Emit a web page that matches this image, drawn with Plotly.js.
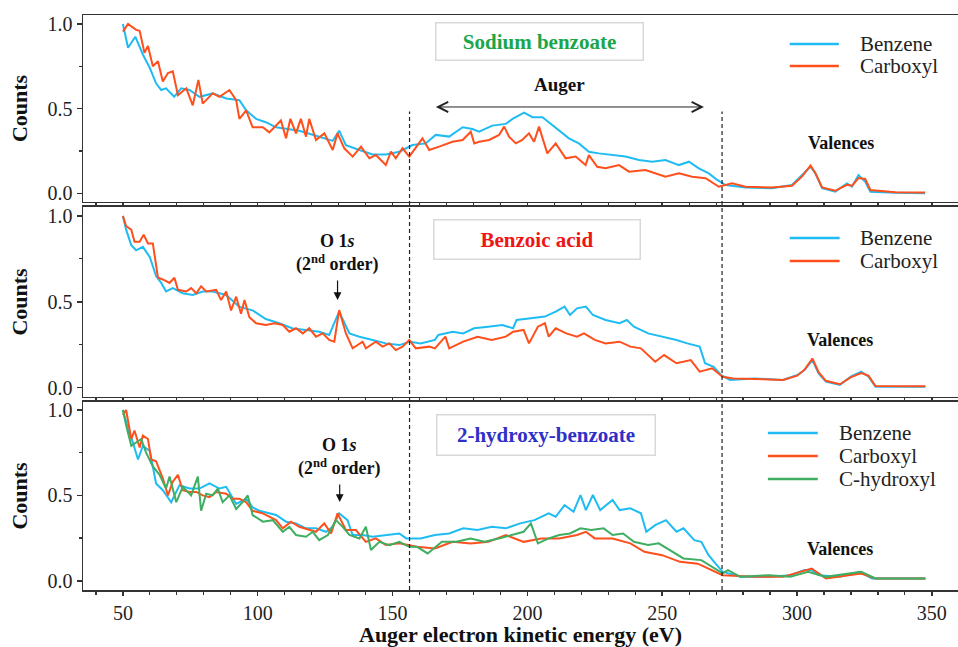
<!DOCTYPE html>
<html>
<head>
<meta charset="utf-8">
<script src="https://cdn.plot.ly/plotly-3.0.1.min.js"></script>
<style>html,body{margin:0;padding:0;background:#fff;}#chart{width:958px;height:647px;}</style>
</head>
<body>
<div id="chart"></div>
<script>
// ---------------- data ----------------
const seriesNames = ['Benzene', 'Carboxyl', 'C-hydroxyl'];
const panelTitles = ['Sodium benzoate', 'Benzoic acid', '2-hydroxy-benzoate'];
const xTickVals = [50, 100, 150, 200, 250, 300, 350];
const yTickVals = [0, 0.5, 1.0];
const yTickText = ['0.0', '0.5', '1.0'];
const regionBounds = [156.3, 272.2];

// Panel 1: Sodium benzoate
const p1BenzeneX = [50,51.9,54.6,57.4,60,62.3,64.2,66,69,71.6,74.7,78.4,83.3,88.3,93.2,95.7,99.4,103,106.8,111.7,115.4,121.6,127.8,130.2,132.7,137.7,142.6,147.5,152.5,157.4,162.3,166,171,176,179.6,182.1,187,192,194.5,198.8,201.9,205.6,208.6,211.7,215.4,219.1,222.8,226.5,231.5,236.4,241.4,246.3,251.2,256.2,259.9,263.6,267.3,270.4,273.5,280.9,290.7,298.1,301.9,305,306.8,309.3,314.2,318.5,320.4,322.8,325.3,327.2,336.4,347.5];
const p1BenzeneY = [1.0,0.86,0.925,0.82,0.74,0.65,0.61,0.62,0.57,0.62,0.61,0.57,0.59,0.56,0.55,0.49,0.44,0.42,0.39,0.38,0.37,0.34,0.31,0.37,0.285,0.256,0.23,0.23,0.246,0.285,0.295,0.345,0.335,0.39,0.38,0.364,0.40,0.41,0.44,0.476,0.45,0.45,0.41,0.374,0.325,0.295,0.246,0.236,0.226,0.217,0.197,0.187,0.197,0.167,0.187,0.148,0.118,0.079,0.049,0.035,0.03,0.049,0.108,0.157,0.118,0.03,0.01,0.059,0.04,0.108,0.069,0.01,0.004,0.0];
const p1CarboxylX = [50,51.9,54.9,56.2,58,59.3,61.1,63,64.8,66.7,68.5,70.4,73.5,75.9,78,79.6,83.3,85.8,89.5,92,93.2,95.7,98.1,101.9,104.3,108.6,110.5,112.1,114.2,116,117.9,119.1,121.6,124.7,127.8,129.6,132.1,135.2,138.3,141.4,143.8,147.5,149.4,151.2,153.7,156.2,161.1,163.6,167.3,172.2,176,179,180.3,182.1,185.8,189.5,191.4,193.2,195.7,198.1,200.6,202.5,204.3,207.4,210.5,214.2,217.9,221.6,222.8,225.9,229,234,237.7,243.8,251.2,256.2,261.1,266.1,271,275.9,280.9,290.7,298.1,301.9,305,306.8,309.3,314.2,318.5,320.4,322.8,325.3,327.2,336.4,347.5];
const p1CarboxylY = [0.955,1.0,0.965,0.96,0.83,0.87,0.75,0.78,0.66,0.71,0.72,0.58,0.62,0.52,0.67,0.53,0.59,0.57,0.61,0.55,0.44,0.49,0.39,0.39,0.36,0.43,0.325,0.44,0.354,0.44,0.335,0.44,0.315,0.354,0.256,0.354,0.266,0.217,0.276,0.207,0.226,0.167,0.246,0.207,0.266,0.217,0.325,0.256,0.276,0.305,0.315,0.364,0.295,0.305,0.315,0.345,0.394,0.335,0.295,0.315,0.354,0.305,0.394,0.236,0.295,0.207,0.217,0.167,0.226,0.157,0.148,0.167,0.128,0.138,0.098,0.118,0.098,0.089,0.039,0.059,0.039,0.035,0.045,0.10,0.165,0.12,0.035,0.015,0.05,0.045,0.09,0.085,0.02,0.006,0.005];

// Panel 2: Benzoic acid
const p2BenzeneX = [50,51.2,53.1,54.9,57.4,60,62.3,64.2,66,68.5,72.2,75.9,79.6,83.3,88.3,93.2,98.1,103,108,113,117.9,122.8,126.5,130.2,134,137.7,142.6,147.5,152.5,156.5,160.4,165.7,167,172.3,176.2,180.2,185.5,190.7,194.7,196,201.3,206.5,210.5,213.8,215.8,218.4,221.7,224.3,229,234.2,236.9,239.5,244.8,250,255.3,259.3,263.9,265.9,269.1,271.8,275.1,284.3,294.8,300.1,302.8,305.7,308,310.7,315.9,319.9,323.8,326.5,329.1,347.6];
const p2BenzeneY = [1.0,0.92,0.83,0.80,0.82,0.76,0.65,0.61,0.56,0.58,0.55,0.54,0.56,0.56,0.54,0.47,0.45,0.40,0.375,0.345,0.336,0.326,0.307,0.443,0.316,0.297,0.278,0.258,0.248,0.268,0.258,0.278,0.307,0.326,0.316,0.346,0.355,0.365,0.346,0.394,0.404,0.414,0.443,0.472,0.423,0.462,0.472,0.423,0.394,0.375,0.394,0.355,0.316,0.297,0.278,0.258,0.239,0.142,0.122,0.074,0.045,0.054,0.045,0.074,0.103,0.161,0.083,0.035,0.016,0.064,0.093,0.064,0.006,0.006];
const p2CarboxylX = [50,51.2,53.1,54.3,56.2,57.7,59.3,61.1,63,64.8,67.3,69.1,70.4,73.5,75.3,77.2,79,80.9,84.6,86.4,88.3,90.1,92,93.8,95.1,96.9,99.4,103,106.2,109.3,111.7,114.2,116.7,119.1,121.6,124.1,126.5,128.4,130.2,132.7,135.2,138.9,140.1,143.8,146.3,148.8,151.2,153.7,156.2,158.6,163.6,165.7,169.6,171,176.2,181.5,186.8,192,194.7,198.6,200.6,203.9,206.5,207.9,210.5,214.4,218.4,221,225,229,234.2,238.2,242.1,247.4,250.7,255.3,260.6,263.9,268.5,272.4,276.4,284.3,294.8,300.1,302.8,305.7,308,310.7,315.9,319.9,323.8,326.5,329.1,347.6];
const p2CarboxylY = [1.0,0.94,0.92,0.85,0.85,0.89,0.84,0.84,0.64,0.63,0.61,0.64,0.57,0.56,0.58,0.55,0.59,0.56,0.57,0.51,0.56,0.45,0.53,0.43,0.51,0.41,0.375,0.365,0.375,0.365,0.326,0.346,0.316,0.346,0.297,0.316,0.278,0.268,0.452,0.316,0.229,0.268,0.229,0.268,0.239,0.258,0.219,0.239,0.278,0.229,0.239,0.229,0.297,0.229,0.268,0.297,0.278,0.297,0.326,0.336,0.258,0.355,0.375,0.297,0.346,0.316,0.297,0.316,0.278,0.258,0.268,0.239,0.229,0.151,0.190,0.142,0.161,0.093,0.113,0.064,0.054,0.05,0.045,0.07,0.105,0.17,0.09,0.04,0.02,0.06,0.085,0.07,0.01,0.008];

// Panel 3: 2-hydroxy-benzoate
const p3BenzeneX = [50,51.9,53.7,55.6,57.4,60,62.3,64.8,67.9,71,74.7,78.4,82.1,85.8,88.3,92,95.7,98.1,100.6,103,106.8,110.5,114.2,117.9,121.6,125.3,127.8,130.2,133.3,135.2,138.9,142.6,147.5,152.5,155.1,160.4,165.7,171,176.2,181.5,186.8,192,197.3,202.6,207.9,210.5,213.8,217.1,219.7,221.7,224.3,227,231.6,234.2,238.2,242.1,244.1,247.4,251.4,255.3,257.9,261.9,264.5,267.2,269.8,272.4,279,289.6,297.5,302.8,305.4,308,315.9,323.2,327.8,347.6];
const p3BenzeneY = [1.0,0.89,0.81,0.71,0.79,0.76,0.57,0.53,0.46,0.56,0.54,0.54,0.57,0.54,0.55,0.45,0.48,0.43,0.41,0.40,0.385,0.346,0.336,0.307,0.307,0.287,0.316,0.395,0.355,0.268,0.268,0.258,0.268,0.277,0.248,0.248,0.268,0.277,0.307,0.297,0.316,0.307,0.336,0.355,0.395,0.375,0.443,0.404,0.502,0.414,0.502,0.414,0.473,0.414,0.424,0.395,0.287,0.326,0.355,0.287,0.307,0.238,0.228,0.150,0.10,0.053,0.023,0.023,0.033,0.0625,0.0625,0.033,0.023,0.053,0.014,0.014];
const p3CarboxylX = [50,51.2,53.1,54.3,56.2,57.4,59.3,60.5,62.3,64.8,66.7,68.5,70.4,72.2,74.7,77.2,79.6,82.1,84.6,88.3,90.7,93.2,95.7,98.1,101.9,104.3,106.8,109.3,112.3,115.4,119.1,121.6,124.7,127.2,129.6,132.7,136.4,140.1,143.8,147.5,152.5,159.1,165.7,172.3,178.9,185.5,192,198.6,205.2,211.8,218.4,221.7,225,231.6,238.2,243.4,250,256.6,263.2,268.5,272.4,284.3,294.8,305.4,310.7,323.8,329.1,347.6];
const p3CarboxylY = [0.97,1.0,0.83,0.88,0.78,0.85,0.83,0.71,0.70,0.60,0.50,0.58,0.62,0.53,0.52,0.52,0.50,0.49,0.52,0.51,0.48,0.48,0.46,0.41,0.395,0.375,0.355,0.307,0.346,0.316,0.297,0.287,0.336,0.277,0.395,0.297,0.297,0.228,0.248,0.209,0.219,0.199,0.189,0.228,0.219,0.228,0.268,0.228,0.248,0.248,0.268,0.287,0.248,0.248,0.219,0.170,0.150,0.111,0.10,0.0625,0.033,0.023,0.023,0.072,0.014,0.043,0.014,0.014];
const p3HydroxylX = [50,51.2,53.1,54.9,56.8,58.6,61.1,63.6,66,67.3,69.8,72.2,75.3,77.8,79,80.9,83.3,85.2,87,89.5,92,94.4,96.3,98.1,101.9,105.6,109.3,111.7,114.2,117.9,120.4,122.8,126,129,131.5,134,137.7,140.1,142,145.1,148.8,152.5,156.2,159.1,163,168.3,173.6,178.9,184.1,189.4,194.7,198.6,201.3,203.9,207.9,211.8,215.8,219.7,223.7,228.3,231.6,235.5,239.5,244.8,248.7,252.7,257.9,264.5,268.5,272.4,274.4,279,289.6,297.5,304.1,310.7,323.8,329.1,347.6];
const p3HydroxylY = [1.0,0.91,0.79,0.81,0.83,0.75,0.67,0.62,0.54,0.61,0.46,0.55,0.50,0.61,0.41,0.51,0.50,0.54,0.46,0.50,0.42,0.46,0.50,0.385,0.346,0.355,0.287,0.316,0.268,0.258,0.287,0.238,0.268,0.355,0.316,0.268,0.248,0.316,0.180,0.228,0.209,0.228,0.199,0.199,0.160,0.228,0.228,0.248,0.228,0.248,0.268,0.287,0.336,0.219,0.248,0.268,0.277,0.307,0.297,0.307,0.268,0.277,0.228,0.209,0.219,0.180,0.131,0.121,0.082,0.043,0.0625,0.023,0.033,0.023,0.053,0.023,0.053,0.014,0.014];

// ---------------- styling ----------------
const SERIF = 'Times New Roman';
const cBenz = '#1fbcf4', cCarb = '#ff4f1c', cHyd = '#3fae62';
const axisCol = '#333333';

function line(x, y, name, color, xa, ya) {
  return {x: x, y: y, name: name, type: 'scatter', mode: 'lines',
    line: {color: color, width: 2}, xaxis: xa, yaxis: ya, showlegend: false};
}

const traces = [
  line(p1BenzeneX, p1BenzeneY, seriesNames[0], cBenz, 'x', 'y'),
  line(p1CarboxylX, p1CarboxylY, seriesNames[1], cCarb, 'x', 'y'),
  line(p2BenzeneX, p2BenzeneY, seriesNames[0], cBenz, 'x2', 'y2'),
  line(p2CarboxylX, p2CarboxylY, seriesNames[1], cCarb, 'x2', 'y2'),
  line(p3BenzeneX, p3BenzeneY, seriesNames[0], cBenz, 'x3', 'y3'),
  line(p3CarboxylX, p3CarboxylY, seriesNames[1], cCarb, 'x3', 'y3'),
  line(p3HydroxylX, p3HydroxylY, seriesNames[2], cHyd, 'x3', 'y3')
];

const XR = [35.2, 359.7];
function xAxis(anchor, labels) {
  const a = {
    anchor: anchor, range: XR, tickvals: xTickVals, showticklabels: labels,
    ticks: 'outside', ticklen: 4, tickwidth: 1.5, tickcolor: axisCol,
    minor: {dtick: 10, tick0: 0, ticks: 'outside', ticklen: 3, tickwidth: 1.2, tickcolor: axisCol},
    showline: true, linecolor: axisCol, linewidth: 1.5, mirror: true,
    showgrid: false, zeroline: false,
    tickfont: {family: SERIF, size: 20, color: '#222'}
  };
  if (labels) {
    a.title = {text: '<b>Auger electron kinetic energy (eV)</b>', standoff: 4,
      font: {family: SERIF, size: 22, color: '#111'}};
  }
  return a;
}
function yAxis(anchor, domain, range) {
  return {
    anchor: anchor, domain: domain, range: range,
    tickvals: yTickVals, ticktext: yTickText,
    ticks: 'outside', ticklen: 5, tickwidth: 1.5, tickcolor: axisCol,
    minor: {tickvals: [0.25, 0.75], ticks: 'outside', ticklen: 3, tickwidth: 1.2, tickcolor: axisCol},
    showline: true, linecolor: axisCol, linewidth: 1.5, mirror: true,
    showgrid: false, zeroline: false,
    tickfont: {family: SERIF, size: 20, color: '#222'},
    title: {text: '<b>Counts</b>', standoff: 14, font: {family: SERIF, size: 22, color: '#111'}}
  };
}

const annotations = [];
const shapes = [];
const fnt = (s, c) => ({family: SERIF, size: s, color: c || '#111'});

// panel title boxes
[['x','y',204.6,0.894,204,34,'#1aa64a'],
 ['x2','y2',203.5,0.86,203,36,'#ee1515'],
 ['x3','y3',206.9,0.854,215,37,'#3030c8']].forEach((b, i) => {
  annotations.push({xref: b[0], yref: b[1], x: b[2], y: b[3], text: '<b>' + panelTitles[i] + '</b>',
    showarrow: false, width: b[4], height: b[5], bordercolor: '#d9d9d9', borderwidth: 1.5,
    borderpad: 1, bgcolor: '#ffffff', font: fnt(21, b[6])});
});

// manual legends
const legends = [
  {xa: 'x', ya: 'y', x0: 297.3, x1: 315.5, tx: 322.6, ys: [0.882, 0.752], cols: [cBenz, cCarb]},
  {xa: 'x2', ya: 'y2', x0: 297.3, x1: 315.8, tx: 322.6, ys: [0.872, 0.738], cols: [cBenz, cCarb]},
  {xa: 'x3', ya: 'y3', x0: 289.2, x1: 307.7, tx: 314.8, ys: [0.865, 0.730, 0.596], cols: [cBenz, cCarb, cHyd]}
];
legends.forEach(L => {
  L.ys.forEach((yy, k) => {
    shapes.push({type: 'line', xref: L.xa, yref: L.ya, x0: L.x0, x1: L.x1, y0: yy, y1: yy,
      line: {color: L.cols[k], width: 2.5}});
    annotations.push({xref: L.xa, yref: L.ya, x: L.tx, y: yy, xanchor: 'left', yanchor: 'middle',
      text: seriesNames[k], showarrow: false, font: fnt(21, '#222')});
  });
});

// region dashed lines across all panels
regionBounds.forEach(xv => {
  shapes.push({type: 'line', xref: 'x3', yref: 'paper', x0: xv, x1: xv, y0: 0, y1: 0.832,
    line: {color: '#222', width: 1.2, dash: '4px,3px'}});
});

// Auger double arrow + label
annotations.push({xref: 'x', yref: 'y', axref: 'x', ayref: 'y', x: 265.5, y: 0.51, ax: 165.5, ay: 0.51,
  text: '', showarrow: true, arrowhead: 5, startarrowhead: 5, arrowside: 'end+start',
  arrowsize: 2, startarrowsize: 2, arrowwidth: 1, arrowcolor: '#222'});
annotations.push({xref: 'x', yref: 'y', x: 212, y: 0.64, text: '<b>Auger</b>', showarrow: false, font: fnt(19)});

// Valences labels
[['x','y',316.3,0.297],['x2','y2',315.8,0.278],['x3','y3',315.8,0.186]].forEach(v => {
  annotations.push({xref: v[0], yref: v[1], x: v[2], y: v[3], text: '<b>Valences</b>', showarrow: false, font: fnt(18)});
});

// O 1s (2nd order) labels, each with its arrow pointing at the peak
[['x2','y2',129.6,0.51,-47],['x3','y3',130.4,0.461,-45]].forEach(o => {
  annotations.push({xref: o[0], yref: o[1], x: o[2], y: o[3], ax: 0, ay: o[4],
    text: '<b>O 1<i>s</i><br>(2<sup>nd</sup> order)</b>', showarrow: true, arrowhead: 2, arrowsize: 1.3,
    arrowwidth: 1.2, arrowcolor: '#111', startstandoff: 4, font: fnt(18)});
});

const layout = {
  width: 958, height: 647,
  margin: {l: 83, r: 0, t: 15, b: 57},
  paper_bgcolor: '#ffffff', plot_bgcolor: '#ffffff',
  showlegend: false,
  font: {family: SERIF},
  xaxis: xAxis('y', false),
  xaxis2: xAxis('y2', false),
  xaxis3: xAxis('y3', true),
  yaxis: yAxis('x', [0.6748, 1], [-0.051, 1.053]),
  yaxis2: yAxis('x2', [0.3357, 0.6661], [-0.054, 1.052]),
  yaxis3: yAxis('x3', [0, 0.327], [-0.054, 1.047]),
  annotations: annotations,
  shapes: shapes
};

Plotly.newPlot('chart', traces, layout, {staticPlot: true});
</script>
</body>
</html>
